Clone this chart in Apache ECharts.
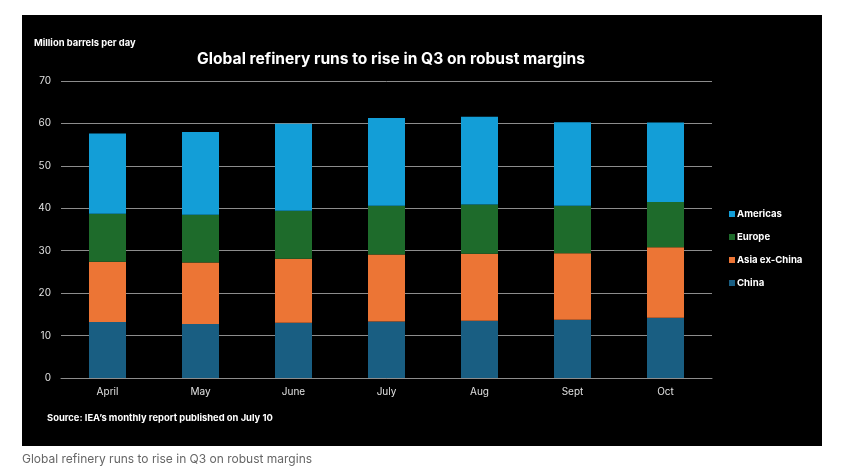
<!DOCTYPE html>
<html>
<head>
<meta charset="utf-8">
<script src="https://cdn.jsdelivr.net/npm/echarts@6/dist/echarts.min.js"></script>
<style>
  html, body { margin: 0; padding: 0; background: #fff; }
  #chart { width: 852px; height: 472px; }
</style>
</head>
<body>
<div id="chart"></div>
<script>
// categories and stacked values, million barrels per day
const months = ['April', 'May', 'June', 'July', 'Aug', 'Sept', 'Oct'];
const china = [13.2, 12.7, 13.0, 13.3, 13.5, 13.7, 14.2];
const asiaExChina = [14.2, 14.5, 15.1, 15.8, 15.8, 15.7, 16.6];
const europe = [11.3, 11.3, 11.3, 11.5, 11.6, 11.2, 10.7];
const americas = [18.9, 19.5, 20.5, 20.7, 20.7, 19.7, 18.7];

const font = 'Inter, "Noto Sans", sans-serif';

const chart = echarts.init(document.getElementById('chart'));

function bar(name, data, color) {
    return {
        name: name,
        type: 'bar',
        stack: 'total',
        data: data,
        barWidth: 37,
        itemStyle: { color: color },
        emphasis: { disabled: true }
    };
}

const option = {
    backgroundColor: '#fff',
    animation: false,
    graphic: [
        { type: 'rect', shape: { x: 22, y: 15, width: 800, height: 431 }, style: { fill: '#000' }, z: -10 },
        { type: 'text', left: 34, top: 39, style: { text: 'Million barrels per day', fill: '#fff', font: 'bold 9.4px ' + font } },
        { type: 'text', left: 47, top: 414, style: { text: 'Source: IEA\u2019s monthly report published on July 10', fill: '#fff', font: 'bold 9.4px ' + font } },
        { type: 'text', left: 22, top: 453, style: { text: 'Global refinery runs to rise in Q3 on robust margins', fill: '#666', font: '12px ' + font } }
    ],
    title: {
        text: 'Global refinery runs to rise in Q3 on robust margins',
        left: 386,
        textAlign: 'center',
        top: 46,
        textStyle: { color: '#fff', fontSize: 15.6, fontWeight: 'bold', fontFamily: font }
    },
    legend: {
        orient: 'vertical',
        left: 724,
        top: 204,
        itemWidth: 6,
        itemHeight: 6,
        itemGap: 13,
        icon: 'rect',
        data: ['Americas', 'Europe', 'Asia ex-China', 'China'],
        textStyle: { color: '#fff', fontSize: 9.6, fontWeight: 'bold', fontFamily: font, padding: [0, 0, 0, -3] }
    },
    grid: { left: 61, right: 140, top: 81, bottom: 94, containLabel: false },
    xAxis: {
        type: 'category',
        data: months,
        axisLine: { lineStyle: { color: '#8c8c8c' } },
        axisTick: { show: false },
        axisLabel: { color: '#e0e0e0', fontSize: 10, fontFamily: font, margin: 9 }
    },
    yAxis: {
        type: 'value',
        min: 0,
        max: 70,
        interval: 10,
        axisLine: { show: false },
        axisTick: { show: false },
        axisLabel: { color: '#e0e0e0', fontSize: 10, fontFamily: font, margin: 10 },
        splitLine: { lineStyle: { color: '#8c8c8c', width: 1 } }
    },
    series: [
        bar('China', china, '#195e82'),
        bar('Asia ex-China', asiaExChina, '#ec7535'),
        bar('Europe', europe, '#1e6b2b'),
        bar('Americas', americas, '#139ed7')
    ]
};

chart.setOption(option);
</script>
</body>
</html>
